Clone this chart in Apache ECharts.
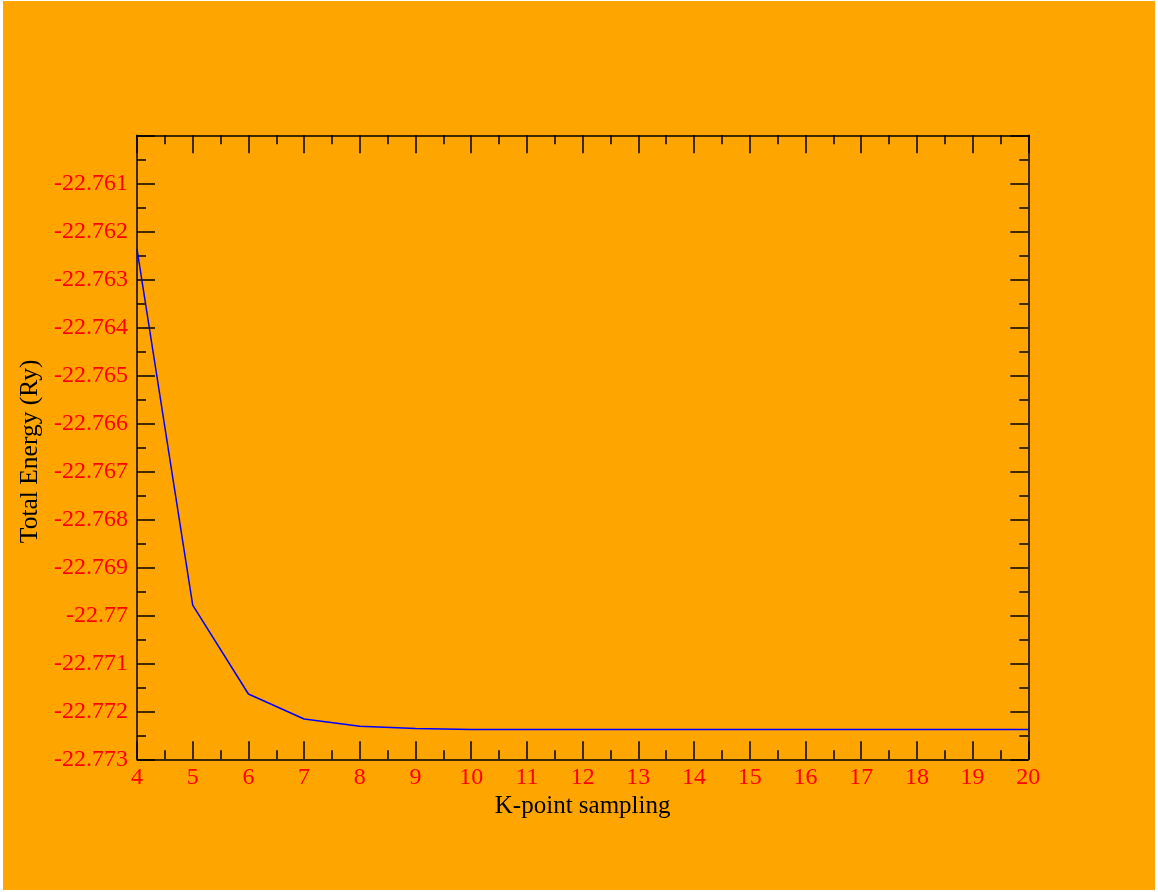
<!DOCTYPE html>
<html>
<head>
<meta charset="utf-8">
<script src="https://cdn.jsdelivr.net/npm/echarts@6/dist/echarts.min.js"></script>
<style>
  html, body { margin: 0; padding: 0; background: #ffffff; width: 1158px; height: 892px; overflow: hidden; }
  #chart { position: absolute; left: 3px; top: 1px; width: 1152px; height: 889px; background: #ffa500; }
</style>
</head>
<body>
<div id="chart"></div>
<script>
// K-point sampling values
var kpoints = [4, 5, 6, 7, 8, 9, 10, 11, 12, 13, 14, 15, 16, 17, 18, 19, 20];
// Total energy (Ry)
var energy = [-22.76237, -22.76979, -22.77164, -22.77216, -22.77231, -22.77236, -22.77238,
              -22.77238, -22.77238, -22.77238, -22.77238, -22.77238, -22.77238, -22.77238,
              -22.77238, -22.77238, -22.77238];
var xMin = 4, xMax = 20, xStep = 1;
var yMin = -22.773, yMax = -22.760, yStep = 0.001;

var FONT = "'Liberation Serif', 'Times New Roman', serif";
var axisLineStyle = { color: '#000000', width: 1.5 };

function makeAxis(base) {
  return Object.assign({
    axisLine: { show: true, onZero: false, lineStyle: axisLineStyle },
    axisTick: { show: true, inside: true, length: 18, lineStyle: axisLineStyle },
    minorTick: { show: true, splitNumber: 2, length: 9, lineStyle: axisLineStyle },
    splitLine: { show: false },
    minorSplitLine: { show: false }
  }, base);
}

var chart = echarts.init(document.getElementById('chart'), null, { renderer: 'canvas' });
chart.setOption({
  backgroundColor: '#ffa500',
  animation: false,
  grid: { left: 134, top: 134.3, right: 126.7, bottom: 130.7, containLabel: false },
  xAxis: [
    makeAxis({
      type: 'value', min: xMin, max: xMax, interval: xStep, position: 'bottom',
      name: 'K-point sampling', nameLocation: 'middle', nameGap: 32,
      nameTextStyle: { color: '#000000', fontFamily: FONT, fontSize: 25 },
      axisLabel: { show: true, color: '#ff0000', fontFamily: FONT, fontSize: 24, margin: 6 }
    }),
    makeAxis({
      type: 'value', min: xMin, max: xMax, interval: xStep, position: 'top',
      axisLabel: { show: false }
    })
  ],
  yAxis: [
    makeAxis({
      type: 'value', min: yMin, max: yMax, interval: yStep, position: 'left',
      name: 'Total Energy (Ry)', nameLocation: 'middle', nameGap: 94, nameRotate: 90,
      nameTextStyle: { color: '#000000', fontFamily: FONT, fontSize: 25.5, padding: [0, 8, 0, 0] },
      axisLabel: { show: true, color: '#ff0000', fontFamily: FONT, fontSize: 24, margin: 9,
                   showMaxLabel: false, padding: [5, 0, 0, 0] }
    }),
    makeAxis({
      type: 'value', min: yMin, max: yMax, interval: yStep, position: 'right',
      axisLabel: { show: false }
    })
  ],
  series: [{
    type: 'line',
    xAxisIndex: 0,
    yAxisIndex: 0,
    data: kpoints.map(function (k, i) { return [k, energy[i]]; }),
    showSymbol: false,
    symbol: 'none',
    lineStyle: { color: '#0000ff', width: 1.5 },
    itemStyle: { color: '#0000ff' }
  }]
});
</script>
</body>
</html>
